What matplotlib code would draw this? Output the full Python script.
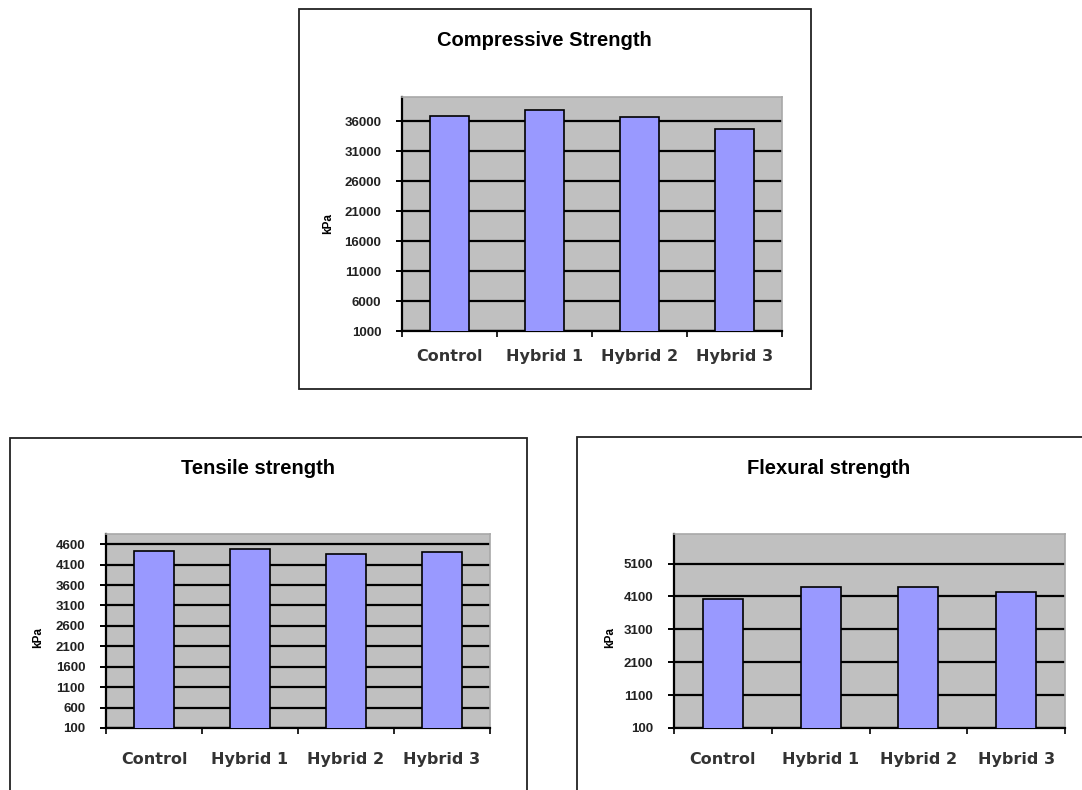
import matplotlib.pyplot as plt
from matplotlib.patches import Rectangle

W, H = 1082, 790

categories = ["Control", "Hybrid 1", "Hybrid 2", "Hybrid 3"]

compressive = [36900, 37900, 36600, 34700]
compressive_ticks = [1000, 6000, 11000, 16000, 21000, 26000, 31000, 36000]

tensile = [4440, 4490, 4360, 4400]
tensile_ticks = [100, 600, 1100, 1600, 2100, 2600, 3100, 3600, 4100, 4600]

flexural = [4010, 4380, 4380, 4240]
flexural_ticks = [100, 1100, 2100, 3100, 4100, 5100]

BAR = "#9999ff"
BG = "#c0c0c0"


def px_axes(fig, x0, y0, x1, y1):
    # pixel box (top-left origin) -> figure axes
    return fig.add_axes([x0 / W, 1 - y1 / H, (x1 - x0) / W, (y1 - y0) / H])


def frame(fig, x0, y0, x1, y1):
    fig.patches.append(Rectangle((x0 / W, 1 - y1 / H), (x1 - x0) / W, (y1 - y0) / H,
                                 transform=fig.transFigure, fill=False,
                                 edgecolor="#222222", linewidth=1.3))


def bar_chart(ax, values, ticks, top, xpad):
    x = range(len(categories))
    ax.bar(x, values, width=0.41, color=BAR, edgecolor="black", linewidth=1.2, zorder=3)
    ax.set_facecolor(BG)
    ax.set_xlim(-0.5, len(categories) - 0.5)
    ax.set_ylim(ticks[0], top)
    ax.set_yticks(ticks)
    ax.set_yticklabels([str(t) for t in ticks], fontsize=9.5, fontweight="bold",
                       family="Liberation Sans", color="#222222")
    ax.tick_params(axis="y", length=4, width=1.4, pad=11)
    ax.grid(axis="y", color="black", linewidth=1.6, zorder=1)
    ax.set_axisbelow(True)
    ax.set_xticks(list(x))
    ax.set_xticklabels(categories, fontsize=11.5, fontweight="bold",
                       family="DejaVu Sans", color="#333333")
    ax.set_xticks([i - 0.5 for i in range(len(categories) + 1)], minor=True)
    ax.tick_params(axis="x", which="major", length=0, pad=xpad)
    ax.tick_params(axis="x", which="minor", length=4, width=1.2, direction="out")
    for side in ("left", "bottom"):
        ax.spines[side].set_color("black")
        ax.spines[side].set_linewidth(1.6)
    for side in ("top", "right"):
        ax.spines[side].set_color("#a8a8a8")
        ax.spines[side].set_linewidth(1.2)


fig = plt.figure(figsize=(W / 100, H / 100), dpi=100)

frame(fig, 299, 9, 811, 389)
frame(fig, 10, 438, 527, 800)
frame(fig, 577, 437, 1100, 800)

ax1 = px_axes(fig, 402, 97, 782, 331)
bar_chart(ax1, compressive, compressive_ticks, 40000, 13)
fig.text(544 / W, 1 - 40 / H, "Compressive Strength", ha="center", va="center",
         fontsize=14.5, fontweight="bold", family="Liberation Sans")
fig.text(328 / W, 1 - 223 / H, "kPa", rotation=90, ha="center", va="center",
         fontsize=8.5, fontweight="bold", family="Liberation Sans")

ax2 = px_axes(fig, 106, 534, 490, 728)
bar_chart(ax2, tensile, tensile_ticks, 4850, 17)
fig.text(258 / W, 1 - 468 / H, "Tensile strength", ha="center", va="center",
         fontsize=14.5, fontweight="bold", family="Liberation Sans")
fig.text(38 / W, 1 - 637 / H, "kPa", rotation=90, ha="center", va="center",
         fontsize=8.5, fontweight="bold", family="Liberation Sans")

ax3 = px_axes(fig, 674, 534, 1065, 728)
bar_chart(ax3, flexural, flexural_ticks, 6000, 17)
fig.text(829 / W, 1 - 468 / H, "Flexural strength", ha="center", va="center",
         fontsize=14.5, fontweight="bold", family="Liberation Sans")
fig.text(610 / W, 1 - 637 / H, "kPa", rotation=90, ha="center", va="center",
         fontsize=8.5, fontweight="bold", family="Liberation Sans")

fig.savefig("out.png", dpi=100)
